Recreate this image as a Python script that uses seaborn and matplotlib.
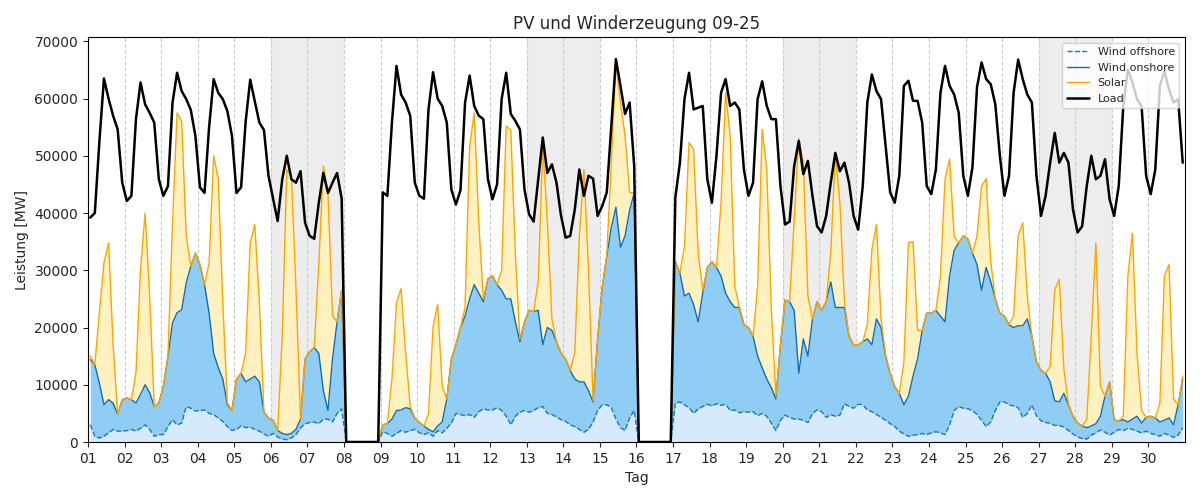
import numpy as np
import pandas as pd
import matplotlib
matplotlib.use('Agg')
import matplotlib.pyplot as plt
import matplotlib.dates as mdates
import seaborn as sns

# 3-hourly readings (01:30, 04:30, ..., 22:30), one row per day, in MW
wind_offshore = [
    3000, 1000, 700, 1000, 1600, 2200, 1900, 1900,        # 01
    2000, 2200, 1900, 2400, 3000, 2200, 1000, 1300,       # 02
    1300, 2700, 3900, 3000, 3300, 6200, 5900, 5400,       # 03
    5500, 5600, 5000, 4800, 4200, 3600, 2700, 2000,       # 04
    2200, 2800, 2500, 2600, 2200, 1900, 1400, 1000,       # 05
    1500, 900, 500, 400, 700, 1300, 2500, 3200,           # 06
    3400, 3500, 3200, 4000, 4000, 3500, 5000, 5800,       # 07
    0, 0, 0, 0, 0, 0, 0, 0,                               # 08 (no data)
    1800, 1500, 1000, 1500, 2000, 1700, 2000, 2200,       # 09
    1600, 1300, 1600, 1000, 2000, 1600, 2400, 3300,       # 10
    5000, 4800, 4600, 4800, 4300, 5300, 5800, 5600,       # 11
    5600, 6000, 5500, 4500, 3000, 4500, 5200, 5500,       # 12
    5200, 5500, 6000, 6200, 5000, 4800, 4400, 3900,       # 13
    3600, 3000, 2700, 2200, 1700, 2200, 3500, 5500,       # 14
    6500, 6500, 6000, 4000, 2500, 2000, 4200, 5500,       # 15
    0, 0, 0, 0, 0, 0, 0, 0,                               # 16 (no data)
    6800, 7000, 6500, 6000, 5000, 5800, 6200, 6600,       # 17
    6300, 6700, 6400, 6600, 5500, 5600, 5100, 5300,       # 18
    5200, 5300, 4600, 5000, 4500, 3300, 2000, 3800,       # 19
    4700, 4300, 4000, 4000, 3800, 3400, 5000, 5600,       # 20
    5300, 4300, 4800, 4500, 4700, 6700, 6200, 5900,       # 21
    6600, 6500, 5600, 5300, 4800, 4300, 3800, 3200,       # 22
    2700, 1900, 1400, 1000, 1200, 1300, 1500, 1300,       # 23
    1600, 1800, 1600, 1300, 3000, 5500, 6200, 5900,       # 24
    5800, 5500, 4800, 3800, 2700, 3500, 5500, 7000,       # 25
    7000, 6500, 6300, 6000, 4300, 5000, 6500, 4600,       # 26
    3700, 3400, 3300, 2900, 2900, 2600, 2000, 1400,       # 27
    900, 600, 500, 1200, 1600, 2100, 1700, 1200,          # 28
    1700, 2200, 2000, 2400, 2200, 1900, 1600, 1900,       # 29
    1500, 1300, 1000, 1500, 1200, 800, 1200, 2500,        # 30
]

wind_onshore = [
    11400, 12500, 9600, 5500, 5800, 4600, 2900, 5500,     # 01
    5700, 5200, 4900, 5900, 7000, 6400, 5200, 5500,       # 02
    8400, 12300, 16900, 19600, 19800, 21600, 24800, 27600,  # 03
    25500, 21900, 17500, 10700, 8800, 7400, 3800, 3500,   # 04
    8800, 9200, 8000, 8400, 9300, 8600, 3800, 3200,       # 05
    2300, 1100, 1000, 900, 800, 900, 1500, 11300,         # 06
    12400, 13000, 12300, 5000, 1500, 11000, 16000, 20700,  # 07
    0, 0, 0, 0, 0, 0, 0, 0,                               # 08
    1200, 1700, 3000, 4000, 3600, 4300, 3800, 2000,       # 09
    1800, 1500, 600, 800, 800, 1900, 5100, 11200,         # 10
    12000, 15200, 17400, 20200, 23200, 20700, 18700, 22900,  # 11
    23400, 21500, 21000, 20500, 22000, 16500, 12300, 15500,  # 12
    17800, 17300, 17000, 10800, 15000, 14700, 13100, 11600,  # 13
    10900, 9500, 8300, 8300, 8800, 6800, 3500, 12500,     # 14
    20500, 26000, 31500, 37000, 31500, 34000, 36300, 38000,  # 15
    0, 0, 0, 0, 0, 0, 0, 0,                               # 16
    24700, 22500, 19000, 20000, 19000, 15200, 19800, 23900,  # 17
    25200, 23800, 22600, 19400, 19000, 17900, 18400, 15200,  # 18
    14800, 13200, 10400, 8000, 6500, 6200, 5500, 13200,   # 19
    20100, 20200, 19000, 8000, 14200, 11600, 16500, 18900,  # 20
    17700, 20200, 23200, 19000, 18800, 16800, 12300, 11100,  # 21
    10400, 11000, 12400, 11700, 16700, 15700, 11200, 8800,  # 22
    7000, 6600, 5100, 7000, 10300, 13200, 18000, 21200,   # 23
    20900, 21200, 20400, 19700, 26000, 28000, 28600, 30100,  # 24
    29700, 27500, 26200, 22700, 27800, 24500, 19500, 15500,  # 25
    15000, 14000, 13700, 14300, 16000, 16500, 12000, 9400,  # 26
    8800, 8600, 7200, 4300, 4100, 5900, 4500, 3100,       # 27
    2400, 2200, 2000, 1600, 1600, 2400, 6300, 9300,       # 28
    2200, 1400, 1900, 1100, 1800, 2600, 1700, 2400,       # 29
    3000, 2900, 2500, 2300, 3000, 2200, 5300, 8500,       # 30
]

solar = [
    600, 0, 12300, 24800, 27400, 10300, 0, 0,             # 01
    0, 0, 5300, 21800, 30000, 16900, 0, 0,                # 02
    0, 0, 17500, 34900, 32900, 8200, 0, 0,                # 03
    0, 0, 8800, 34500, 33000, 13300, 300, 0,              # 04
    0, 0, 5100, 23800, 26500, 13800, 0, 0,                # 05
    0, 0, 17000, 46200, 45000, 24800, 0, 0,               # 06
    0, 0, 15500, 39200, 38000, 7500, 0, 0,                # 07
    0, 0, 0, 0, 0, 0, 0, 0,                               # 08
    0, 0, 7000, 18800, 21200, 9600, 400, 0,               # 09
    0, 0, 2800, 18400, 21200, 6200, 0, 0,                 # 10
    0, 0, 1500, 26700, 30000, 12300, 500, 0,              # 11
    0, 0, 3500, 30200, 29500, 12000, 500, 0,              # 12
    0, 0, 5000, 34700, 18500, 2000, 0, 0,                 # 13
    0, 0, 4600, 25500, 37100, 21100, 200, 0,              # 14
    0, 0, 11500, 25300, 25300, 17500, 3100, 0,            # 15
    0, 0, 0, 0, 0, 0, 0, 0,                               # 16
    0, 0, 8700, 26300, 27100, 12000, 500, 0,              # 17
    0, 0, 12800, 35000, 29000, 3700, 200, 0,              # 18
    0, 0, 12200, 41600, 36600, 13600, 500, 0,             # 19
    0, 0, 15900, 41000, 30800, 10500, 0, 0,               # 20
    0, 0, 5000, 26800, 18300, 800, 0, 0,                  # 21
    0, 0, 2500, 16600, 16500, 1500, 200, 0,               # 22
    0, 0, 7500, 26800, 23500, 5000, 0, 0,                 # 23
    0, 0, 7000, 24900, 20400, 2500, 0, 0,                 # 24
    0, 0, 5000, 18200, 15500, 3500, 0, 0,                 # 25
    0, 0, 2000, 15700, 18000, 4000, 0, 0,                 # 26
    0, 0, 2700, 19400, 21400, 4200, 100, 0,               # 27
    0, 0, 1400, 15700, 31600, 5200, 0, 0,                 # 28
    0, 0, 600, 25500, 32500, 11100, 2200, 0,              # 29
    0, 0, 3300, 25200, 26800, 4500, 0, 500,               # 30
]

load = [
    39200, 40000, 52500, 63500, 60000, 57000, 54600, 45300,  # 01
    42100, 43000, 56400, 62800, 59000, 57500, 55800, 45900,  # 02
    43000, 44700, 59300, 64500, 61300, 59900, 58000, 53500,  # 03
    44500, 43500, 55000, 63400, 61000, 59900, 57800, 53500,  # 04
    43500, 44500, 56000, 63300, 59500, 55800, 54500, 46500,  # 05
    42500, 38600, 45900, 50000, 45900, 45300, 47300, 38300,  # 06
    36000, 35500, 41800, 47000, 43500, 45300, 47000, 42500,  # 07
    0, 0, 0, 0, 0, 0, 0, 0,                                  # 08
    43600, 43000, 55800, 65700, 60700, 59300, 57000, 45300,  # 09
    43000, 42500, 58100, 64600, 60000, 58700, 55800, 44100,  # 10
    41500, 44000, 59300, 64000, 58700, 57000, 56400, 45900,  # 11
    42400, 45000, 59900, 64500, 57300, 56100, 54600, 44100,  # 12
    39800, 38500, 45900, 53200, 47000, 48500, 45300, 39500,  # 13
    35700, 36000, 40600, 47600, 43000, 46500, 46000, 39500,  # 14
    41200, 43600, 55200, 66900, 62200, 57300, 59300, 48200,  # 15
    0, 0, 0, 0, 0, 0, 0, 0,                                  # 16
    42700, 48800, 59900, 64500, 58100, 58400, 58700, 45900,  # 17
    41800, 50000, 61000, 63400, 58700, 59300, 58100, 47600,  # 18
    43000, 45300, 59900, 63000, 58700, 56400, 56400, 44700,  # 19
    38000, 38500, 48200, 52600, 46800, 49100, 43000, 37700,  # 20
    36600, 39500, 45300, 50500, 47300, 48800, 45300, 39500,  # 21
    37100, 44700, 59300, 64200, 61300, 59900, 51700, 43600,  # 22
    41800, 46500, 62200, 63100, 59600, 59600, 55800, 44700,  # 23
    43300, 47600, 61000, 65700, 62200, 60700, 57500, 46500,  # 24
    43000, 48000, 62000, 66300, 63400, 62500, 59000, 50000,  # 25
    43000, 46500, 61000, 66800, 63400, 60700, 59300, 46500,  # 26
    39500, 43000, 48800, 54000, 48800, 50500, 48800, 40600,  # 27
    36600, 37700, 44700, 50000, 45900, 46500, 49400, 42400,  # 28
    39500, 44700, 58700, 65100, 62800, 59900, 58700, 46500,  # 29
    43300, 47600, 62200, 64800, 61600, 59300, 59900, 48800,  # 30
]

# weekends (Saturday dates)
saturdays = ['2025-09-06', '2025-09-13', '2025-09-20', '2025-09-27']

times = pd.date_range('2025-09-01 01:30', periods=len(load), freq='3h')
df = pd.DataFrame({
    'time': times,
    'offshore': wind_offshore,
    'onshore': wind_onshore,
    'solar': solar,
    'load': load,
})
# stacked levels
df['lvl_off'] = df['offshore']
df['lvl_on'] = df['lvl_off'] + df['onshore']
df['lvl_sol'] = df['lvl_on'] + df['solar']

sns.set_style('ticks')
fig, ax = plt.subplots(figsize=(12, 5), dpi=100)
fig.subplots_adjust(left=0.0733, right=0.9875, top=0.926, bottom=0.116)

for s in saturdays:
    start = pd.Timestamp(s)
    ax.axvspan(start, start + pd.Timedelta(days=2), color='lightgrey', alpha=0.4, lw=0, zorder=0)

ax.fill_between(df['time'], 0, df['lvl_off'], color='#d6eafc', lw=0, zorder=1)
ax.fill_between(df['time'], df['lvl_off'], df['lvl_on'], color='#8fcdf5', lw=0, zorder=1)
ax.fill_between(df['time'], df['lvl_on'], df['lvl_sol'], color='#fff2c0', lw=0, zorder=1)

sns.lineplot(data=df, x='time', y='lvl_off', ax=ax, color='#1f77b4', lw=1, linestyle='--', label='Wind offshore', zorder=2)
sns.lineplot(data=df, x='time', y='lvl_on', ax=ax, color='#0a6fba', lw=1, label='Wind onshore', zorder=2)
sns.lineplot(data=df, x='time', y='lvl_sol', ax=ax, color='orange', lw=1, label='Solar', zorder=2)
sns.lineplot(data=df, x='time', y='load', ax=ax, color='black', lw=1.8, label='Load', zorder=3)

day_ticks = pd.date_range('2025-09-01', '2025-09-30', freq='D')
ax.set_xticks(day_ticks)
ax.set_xticklabels([d.strftime('%d') for d in day_ticks])
ax.set_xlim(pd.Timestamp('2025-09-01'), pd.Timestamp('2025-10-01'))
ax.set_ylim(0, 70750)
ax.set_yticks(range(0, 70001, 10000))

ax.set_axisbelow(True)
ax.grid(axis='x', linestyle='--', color='#cccccc', lw=0.8)
for sp in ax.spines.values():
    sp.set_visible(True)
    sp.set_color('black')

ax.set_title('PV und Winderzeugung 09-25', fontsize=12)
ax.set_xlabel('Tag', fontsize=10)
ax.set_ylabel('Leistung [MW]', fontsize=10)
ax.tick_params(labelsize=10)
ax.legend(loc='upper right', fontsize=8, framealpha=0.8)

fig.savefig('out.png', dpi=100)
